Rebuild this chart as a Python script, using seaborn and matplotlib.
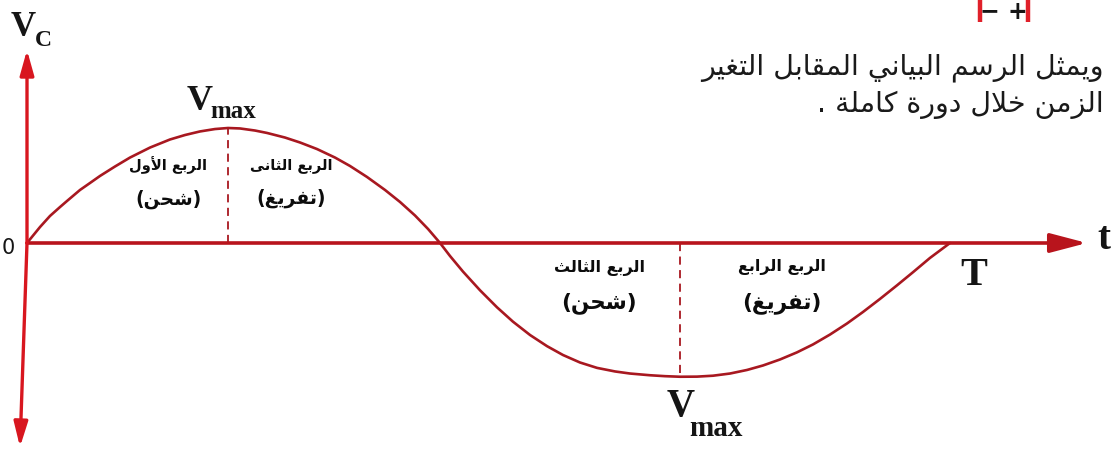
import numpy as np
import pandas as pd
import matplotlib
matplotlib.use("Agg")
import matplotlib.pyplot as plt
import seaborn as sns

# ---- data: capacitor voltage over one full cycle (t in units of T, v in units of Vmax)
t_values = [0.0, 0.0141, 0.0249, 0.0358, 0.0433, 0.0574, 0.0683, 0.0791, 0.0953,
            0.1116, 0.1333, 0.1549, 0.1712, 0.1874, 0.2037, 0.2178, 0.2308, 0.2470,
            0.2600, 0.2795, 0.2958, 0.3142, 0.3337, 0.3499, 0.3684, 0.3879, 0.4041,
            0.4204, 0.4345, 0.4475, 0.4583, 0.4724, 0.4908, 0.5092, 0.5265, 0.5450,
            0.5634, 0.5807, 0.5991, 0.6176, 0.6371, 0.6533, 0.6750, 0.6912, 0.7075,
            0.7259, 0.7432, 0.7617, 0.7801, 0.7974, 0.8158, 0.8342, 0.8516, 0.8700,
            0.8884, 0.9057, 0.9242, 0.9426, 0.9599, 0.9783, 1.0]
v_values = [0.0, 0.139, 0.235, 0.313, 0.365, 0.461, 0.522, 0.583, 0.665,
            0.743, 0.830, 0.900, 0.939, 0.970, 0.991, 1.0, 0.996, 0.978,
            0.957, 0.917, 0.874, 0.817, 0.743, 0.670, 0.574, 0.461, 0.357,
            0.239, 0.122, 0.0, -0.113, -0.249, -0.411, -0.559, -0.684, -0.800,
            -0.897, -0.974, -1.039, -1.086, -1.117, -1.135, -1.150, -1.158, -1.163,
            -1.162, -1.154, -1.135, -1.104, -1.065, -1.013, -0.951, -0.882, -0.796,
            -0.700, -0.600, -0.486, -0.368, -0.254, -0.130, 0.0]

quarter_titles = ["الربع الأول", "الربع الثانى", "الربع الثالث", "الربع الرابع"]
quarter_states = ["(شحن)", "(تفريغ)", "(شحن)", "(تفريغ)"]
quarter_t = [0.153, 0.286, 0.620, 0.818]
quarter_title_v = [0.678, 0.678, -0.217, -0.209]
quarter_state_v = [0.383, 0.391, -0.522, -0.522]

caption_lines = ["ويمثل الرسم البياني المقابل التغير", "الزمن خلال دورة كاملة ."]

# ---- minimal Arabic shaping (contextual forms + right-to-left order)
FORMS = {
    'ا': ('\uFE8D', '\uFE8E', None, None),
    'أ': ('\uFE83', '\uFE84', None, None),
    'ب': ('\uFE8F', '\uFE90', '\uFE91', '\uFE92'),
    'ة': ('\uFE93', '\uFE94', None, None),
    'ت': ('\uFE95', '\uFE96', '\uFE97', '\uFE98'),
    'ث': ('\uFE99', '\uFE9A', '\uFE9B', '\uFE9C'),
    'ح': ('\uFEA1', '\uFEA2', '\uFEA3', '\uFEA4'),
    'خ': ('\uFEA5', '\uFEA6', '\uFEA7', '\uFEA8'),
    'د': ('\uFEA9', '\uFEAA', None, None),
    'ر': ('\uFEAD', '\uFEAE', None, None),
    'ز': ('\uFEAF', '\uFEB0', None, None),
    'س': ('\uFEB1', '\uFEB2', '\uFEB3', '\uFEB4'),
    'ش': ('\uFEB5', '\uFEB6', '\uFEB7', '\uFEB8'),
    'ع': ('\uFEC9', '\uFECA', '\uFECB', '\uFECC'),
    'غ': ('\uFECD', '\uFECE', '\uFECF', '\uFED0'),
    'ف': ('\uFED1', '\uFED2', '\uFED3', '\uFED4'),
    'ق': ('\uFED5', '\uFED6', '\uFED7', '\uFED8'),
    'ك': ('\uFED9', '\uFEDA', '\uFEDB', '\uFEDC'),
    'ل': ('\uFEDD', '\uFEDE', '\uFEDF', '\uFEE0'),
    'م': ('\uFEE1', '\uFEE2', '\uFEE3', '\uFEE4'),
    'ن': ('\uFEE5', '\uFEE6', '\uFEE7', '\uFEE8'),
    'و': ('\uFEED', '\uFEEE', None, None),
    'ى': ('\uFEEF', '\uFEF0', '\uFBE8', '\uFBE9'),
    'ي': ('\uFEF1', '\uFEF2', '\uFEF3', '\uFEF4'),
}
LAM_ALEF = {'ا': ('\uFEFB', '\uFEFC'), 'أ': ('\uFEF7', '\uFEF8')}


def shape(text):
    units, i = [], 0
    while i < len(text):
        c = text[i]
        if c == 'ل' and i + 1 < len(text) and text[i + 1] in LAM_ALEF:
            units.append(('LA', text[i + 1]))
            i += 2
        else:
            units.append(('C', c))
            i += 1

    def joins_forward(u):
        k, c = u
        return k == 'C' and c in FORMS and FORMS[c][2] is not None

    def joinable(u):
        k, c = u
        return k == 'LA' or c in FORMS

    out = []
    for j, u in enumerate(units):
        prev_join = j > 0 and joins_forward(units[j - 1]) and joinable(u)
        next_join = j + 1 < len(units) and joins_forward(u) and joinable(units[j + 1])
        k, c = u
        if k == 'LA':
            out.append(LAM_ALEF[c][1 if prev_join else 0])
        elif c in FORMS:
            iso, fin, ini, med = FORMS[c]
            if prev_join and next_join:
                out.append(med)
            elif prev_join:
                out.append(fin)
            elif next_join:
                out.append(ini)
            else:
                out.append(iso)
        else:
            out.append(c)
    mirror = {'(': ')', ')': '('}
    return ''.join(mirror.get(ch, ch) for ch in reversed(out))


# ---- figure
sns.set_theme(style="white")
plt.rcParams['font.family'] = ['DejaVu Sans']

W, H = 1117, 449
fig = plt.figure(figsize=(W / 100, H / 100), dpi=100)
fig.patch.set_facecolor("white")
ax = fig.add_axes([0, 0, 1, 1])
ax.set_axis_off()

# pixel layout: origin at (27, 243), one period = 923 px, Vmax = 115 px
X0, Y0, SX, SY = 27.0, 243.0, 923.0, 115.0
ax.set_xlim(-X0 / SX, (W - X0) / SX)
ax.set_ylim((Y0 - H) / SY, Y0 / SY)


def pt(px, py):
    return ((px - X0) / SX, (Y0 - py) / SY)


AXIS_RED = "#b8141c"
HEAD_RED = "#d8161f"
CURVE_RED = "#a81820"
INK = "#151515"
SERIF = ["Liberation Serif", "DejaVu Serif"]

# axes with arrow heads
ax.annotate("", xy=pt(1087, 243), xytext=(0, 0),
            arrowprops=dict(arrowstyle="-|>,head_length=1.6,head_width=0.42",
                            mutation_scale=14, color=AXIS_RED, lw=2.6,
                            shrinkA=0, shrinkB=0))
ax.annotate("", xy=pt(27, 50), xytext=(0, 0),
            arrowprops=dict(arrowstyle="-|>,head_length=1.5,head_width=0.42",
                            mutation_scale=10, color=HEAD_RED, lw=2.4,
                            shrinkA=0, shrinkB=0))
ax.annotate("", xy=pt(20, 447), xytext=(0, 0),
            arrowprops=dict(arrowstyle="-|>,head_length=1.5,head_width=0.42",
                            mutation_scale=10, color=HEAD_RED, lw=2.4,
                            shrinkA=0, shrinkB=0))

# the voltage curve
df = pd.DataFrame({"t": t_values, "v": v_values})
sns.lineplot(data=df, x="t", y="v", ax=ax, sort=False, estimator=None,
             color=CURVE_RED, linewidth=1.9)
ax.lines[-1].set_solid_joinstyle("round")
ax.lines[-1].set_solid_capstyle("round")

# dashed verticals at the maximum and minimum
i_max = int(np.argmax(v_values))
i_min = int(np.argmin(v_values))
for idx in (i_max, i_min):
    ax.vlines(t_values[idx], 0, v_values[idx], colors=CURVE_RED,
              linestyles=(0, (4.5, 3)), linewidth=1.3)

# axis labels
ax.text(*pt(11, 36), "V", fontsize=25, fontweight="bold", family=SERIF,
        color=INK, ha="left", va="baseline")
ax.text(*pt(35, 46), "C", fontsize=17, fontweight="bold", family=SERIF,
        color=INK, ha="left", va="baseline")
ax.text(*pt(2, 254), "0", fontsize=15, family=["DejaVu Sans"], color=INK,
        ha="left", va="baseline")
ax.text(*pt(1097, 249), "t", fontsize=28, fontweight="bold", family=SERIF,
        color=INK, ha="left", va="baseline")
ax.annotate("T", xy=(t_values[-1], 0), xytext=(10, -42), textcoords="offset pixels",
            fontsize=29, fontweight="bold", family=SERIF, color=INK,
            ha="left", va="baseline")

# Vmax labels at the extremes
for idx, (dxv, dyv, dxm, dym, fv, fm) in zip(
        (i_max, i_min),
        ((-41, 18, -18, 10, 26, 18), (-13, -39, 9, -59, 28, 21))):
    anchor = (t_values[idx], v_values[idx])
    ax.annotate("V", xy=anchor, xytext=(dxv, dyv), textcoords="offset pixels",
                fontsize=fv, fontweight="bold", family=SERIF, color=INK,
                ha="left", va="baseline")
    ax.annotate("max", xy=anchor, xytext=(dxm, dym), textcoords="offset pixels",
                fontsize=fm, fontweight="bold", family=SERIF, color=INK,
                ha="left", va="baseline")

# quarter labels
for k in range(4):
    big = k >= 2
    ax.text(quarter_t[k], quarter_title_v[k], shape(quarter_titles[k]),
            fontsize=11.5 if big else 10.5, fontweight="bold",
            family=["DejaVu Sans"], color="#0c0c0c", ha="center", va="center")
    ax.text(quarter_t[k], quarter_state_v[k], shape(quarter_states[k]),
            fontsize=15.5 if big else 13.5, fontweight="bold",
            family=["DejaVu Sans"], color="#0c0c0c", ha="center", va="center")

# caption on the right
for line, py in zip(caption_lines, (68, 105)):
    ax.text(*pt(1104, py), shape(line), fontsize=20.5, family=["DejaVu Sans"],
            color="#1a1a1a", ha="right", va="center")

# battery sign at the top edge
for bx in (980, 1028):
    ax.plot(*zip(pt(bx, 0), pt(bx, 22)), color="#e0202a", lw=3.2,
            solid_capstyle="butt")
ax.text(*pt(1004, 19), "− +", fontsize=17, fontweight="bold", color=INK,
        ha="center", va="baseline", family=["DejaVu Sans"])

fig.savefig("out.png", dpi=100, facecolor="white")
